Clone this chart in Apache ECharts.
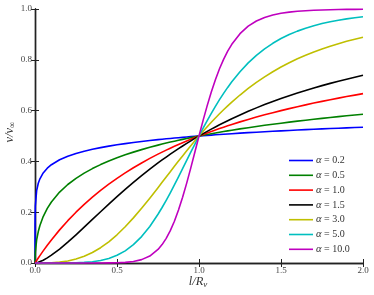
<!DOCTYPE html>
<html><head><meta charset="utf-8">
<script src="https://cdn.jsdelivr.net/npm/echarts@6/dist/echarts.min.js"></script>
<style>html,body{margin:0;padding:0;background:#fff}#c{width:374px;height:295px}</style>
</head><body><div id="c"></div>
<script>
const xs = [0, 0.0002, 0.002, 0.01, 0.02, 0.03, 0.05, 0.075, 0.1, 0.15, 0.2, 0.25, 0.3, 0.35, 0.4, 0.45, 0.5, 0.55, 0.6, 0.65, 0.7, 0.75, 0.775, 0.8, 0.825, 0.85, 0.875, 0.9, 0.925, 0.95, 0.975, 1.0, 1.025, 1.05, 1.075, 1.1, 1.125, 1.15, 1.175, 1.2, 1.25, 1.3, 1.35, 1.4, 1.45, 1.5, 1.55, 1.6, 1.65, 1.7, 1.75, 1.8, 1.85, 1.9, 1.95, 2.0];
const a02 = [0, 0.154, 0.224, 0.285, 0.3138, 0.3315, 0.3546, 0.3733, 0.3869, 0.4063, 0.4202, 0.4311, 0.4401, 0.4477, 0.4543, 0.4602, 0.4654, 0.4701, 0.4745, 0.4785, 0.4822, 0.4856, 0.4873, 0.4889, 0.4904, 0.4919, 0.4933, 0.4947, 0.4961, 0.4974, 0.4987, 0.5, 0.5012, 0.5024, 0.5036, 0.5048, 0.5059, 0.5070, 0.5081, 0.5091, 0.5112, 0.5131, 0.5150, 0.5168, 0.5186, 0.5203, 0.5219, 0.5235, 0.5250, 0.5265, 0.5280, 0.5294, 0.5307, 0.5321, 0.5333, 0.5346];
const a05 = [0, 0.0139, 0.0428, 0.0909, 0.1239, 0.1476, 0.1827, 0.2150, 0.2403, 0.2792, 0.3090, 0.3333, 0.3539, 0.3717, 0.3874, 0.4015, 0.4142, 0.4258, 0.4365, 0.4464, 0.4555, 0.4641, 0.4682, 0.4721, 0.4760, 0.4797, 0.4833, 0.4868, 0.4903, 0.4936, 0.4968, 0.5, 0.5031, 0.5061, 0.5090, 0.5119, 0.5147, 0.5175, 0.5201, 0.5228, 0.5279, 0.5327, 0.5375, 0.5420, 0.5463, 0.5505, 0.5546, 0.5585, 0.5623, 0.5660, 0.5695, 0.5730, 0.5763, 0.5795, 0.5827, 0.5858];
const a10 = [0, 0.0002, 0.002, 0.0099, 0.0196, 0.0291, 0.0476, 0.0698, 0.0909, 0.1304, 0.1667, 0.2, 0.2308, 0.2593, 0.2857, 0.3103, 0.3333, 0.3548, 0.375, 0.3939, 0.4118, 0.4286, 0.4366, 0.4444, 0.4521, 0.4595, 0.4667, 0.4737, 0.4805, 0.4872, 0.4937, 0.5, 0.5062, 0.5122, 0.5181, 0.5238, 0.5294, 0.5349, 0.5402, 0.5455, 0.5556, 0.5652, 0.5745, 0.5833, 0.5918, 0.6, 0.6078, 0.6154, 0.6226, 0.6296, 0.6364, 0.6429, 0.6491, 0.6552, 0.6610, 0.6667];
const a15 = [0, 0, 0.0001, 0.001, 0.0028, 0.0052, 0.0111, 0.0201, 0.0307, 0.0549, 0.0821, 0.1111, 0.1411, 0.1715, 0.2019, 0.2319, 0.2612, 0.2897, 0.3173, 0.3439, 0.3694, 0.3938, 0.4056, 0.4171, 0.4284, 0.4393, 0.4501, 0.4606, 0.4708, 0.4808, 0.4905, 0.5, 0.5093, 0.5183, 0.5271, 0.5357, 0.5441, 0.5522, 0.5601, 0.5680, 0.5829, 0.5971, 0.6107, 0.6236, 0.6358, 0.6475, 0.6587, 0.6693, 0.6794, 0.6891, 0.6983, 0.7072, 0.7156, 0.7237, 0.7314, 0.7388];
const a30 = [0, 0, 0, 0, 0, 0, 0.0001, 0.0004, 0.001, 0.0034, 0.0079, 0.0154, 0.0263, 0.0411, 0.0602, 0.0835, 0.1111, 0.1426, 0.1776, 0.2155, 0.2554, 0.2967, 0.3176, 0.3386, 0.3596, 0.3805, 0.4012, 0.4216, 0.4418, 0.4616, 0.4810, 0.5, 0.5185, 0.5365, 0.5540, 0.5710, 0.5874, 0.6033, 0.6186, 0.6334, 0.6614, 0.6872, 0.7110, 0.7329, 0.7530, 0.7714, 0.7883, 0.8038, 0.8179, 0.8309, 0.8428, 0.8536, 0.8636, 0.8728, 0.8812, 0.8889];
const a50 = [0, 0, 0, 0, 0, 0, 0, 0, 0, 0.0001, 0.0003, 0.0010, 0.0024, 0.0052, 0.0101, 0.0181, 0.0303, 0.0479, 0.0722, 0.1040, 0.1439, 0.1918, 0.2185, 0.2468, 0.2765, 0.3073, 0.3390, 0.3713, 0.4038, 0.4362, 0.4684, 0.5, 0.5308, 0.5607, 0.5894, 0.6169, 0.6431, 0.6679, 0.6913, 0.7133, 0.7532, 0.7878, 0.8176, 0.8432, 0.8650, 0.8836, 0.8995, 0.9129, 0.9244, 0.9342, 0.9426, 0.9497, 0.9559, 0.9612, 0.9657, 0.9697];
const a100 = [0, 0, 0, 0, 0, 0, 0, 0, 0, 0, 0, 0, 0, 0, 0.0001, 0.0003, 0.001, 0.0025, 0.0060, 0.0133, 0.0275, 0.0533, 0.0725, 0.0970, 0.1274, 0.1645, 0.2083, 0.2586, 0.3144, 0.3745, 0.4370, 0.5, 0.5614, 0.6196, 0.6733, 0.7217, 0.7646, 0.8018, 0.8338, 0.8610, 0.9030, 0.9324, 0.9526, 0.9666, 0.9762, 0.9830, 0.9877, 0.9910, 0.9934, 0.9951, 0.9963, 0.9972, 0.9979, 0.9984, 0.9987, 0.9990];
const seriesNames = ['α = 0.2', 'α = 0.5', 'α = 1.0', 'α = 1.5', 'α = 3.0', 'α = 5.0', 'α = 10.0'];
const seriesValues = [a02, a05, a10, a15, a30, a50, a100];
const colors = ['#0000ff', '#008000', '#ff0000', '#000000', '#bfbf00', '#00bfbf', '#bf00bf'];
const xTicks = [0, 0.5, 1.0, 1.5, 2.0];
const yTicks = [0, 0.2, 0.4, 0.6, 0.8, 1.0];

const serif = '"Liberation Serif", "DejaVu Serif", serif';
const chart = echarts.init(document.getElementById('c'), null, {renderer: 'canvas'});
const axisLine = {show: true, lineStyle: {color: '#222', width: 1.4}};
const tick = {show: true, inside: true, length: 4, lineStyle: {color: '#222', width: 1}};
const lab = {color: '#444', fontFamily: serif, fontSize: 9};
chart.setOption({
  animation: false,
  grid: {left: 35, right: 11, top: 9, bottom: 32},
  xAxis: [
    {type: 'value', min: xTicks[0], max: xTicks[xTicks.length - 1], interval: 0.5, position: 'bottom',
     axisLine, axisTick: tick, splitLine: {show: false},
     axisLabel: Object.assign({margin: 3, formatter: v => v.toFixed(1)}, lab)},
    {type: 'value', min: xTicks[0], max: xTicks[xTicks.length - 1], interval: 0.5, position: 'top',
     axisLine, axisTick: tick, splitLine: {show: false}, axisLabel: {show: false}}
  ],
  yAxis: [
    {type: 'value', min: yTicks[0], max: yTicks[yTicks.length - 1], interval: 0.2, position: 'left',
     axisLine, axisTick: tick, splitLine: {show: false},
     axisLabel: Object.assign({margin: 3, formatter: v => v.toFixed(1)}, lab)},
    {type: 'value', min: yTicks[0], max: yTicks[yTicks.length - 1], interval: 0.2, position: 'right',
     axisLine, axisTick: tick, splitLine: {show: false}, axisLabel: {show: false}}
  ],
  legend: {
    orient: 'vertical', left: 284, top: 150,
    itemWidth: 24, itemHeight: 10, itemGap: 3.8,
    icon: 'path://M0,4.2 L24,4.2 L24,5.8 L0,5.8 Z',
    data: seriesNames,
    formatter: n => '{a|α}{b|' + n.slice(1) + '}',
    textStyle: {color: '#333', fontFamily: serif, fontSize: 9.5, lineHeight: 10, padding: [0, 0, 0, -2],
      rich: {a: {fontStyle: 'italic', fontFamily: serif, fontSize: 10.5, lineHeight: 10, color: '#333'},
             b: {fontFamily: serif, fontSize: 10, lineHeight: 10, color: '#333'}}}
  },
  graphic: [
    {type: 'text', id: 'ylab', x: 10, y: 132, rotation: Math.PI / 2,
     style: {text: '{i|v/v}{s|∞}', fill: '#333', verticalAlign: 'middle', align: 'center',
       rich: {i: {fontStyle: 'italic', fontFamily: serif, fontSize: 12.5, fill: '#333'},
              s: {fontFamily: serif, fontSize: 9, fill: '#333', padding: [6, 0, 0, 0]}}}},
    {type: 'text', id: 'xlab', x: 198, y: 282,
     style: {text: '{i|l/R}{s|v}', fill: '#333', verticalAlign: 'middle', align: 'center',
       rich: {i: {fontStyle: 'italic', fontFamily: serif, fontSize: 12.5, fill: '#333'},
              s: {fontStyle: 'italic', fontFamily: serif, fontSize: 9, fill: '#333', padding: [6, 0, 0, 0]}}}}
  ],
  series: seriesValues.map((vals, i) => ({
    name: seriesNames[i], type: 'line', showSymbol: false, symbol: 'none',
    smooth: false, clip: false,
    color: colors[i],
    lineStyle: {color: colors[i], width: 1.6, join: 'round'},
    data: xs.map((x, j) => [x, vals[j]])
  }))
});
</script></body></html>
